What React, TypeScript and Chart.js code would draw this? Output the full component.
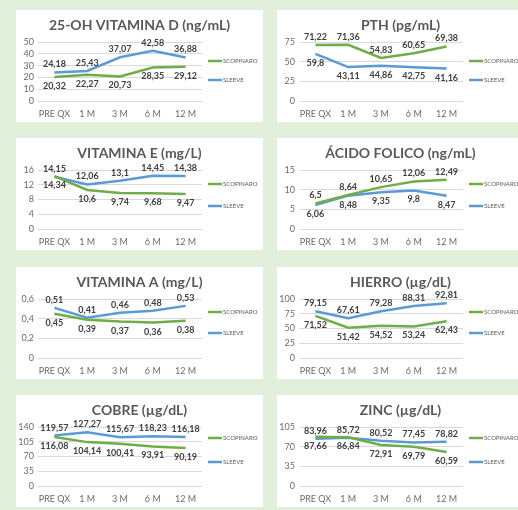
import React, { useEffect, useRef } from "react";
import { Chart, registerables } from "chart.js";

Chart.register(...registerables);

// Follow-up points after surgery
const months = ["PRE QX", "1 M", "3 M", "6 M", "12 M"];
const seriesNames = ["SCOPINARO", "SLEEVE"];

const vitDScopinaro = [20.32, 22.27, 20.73, 28.35, 29.12];
const vitDSleeve = [24.18, 25.43, 37.07, 42.58, 36.88];
const vitDTicks = [0, 50, 10];

const pthScopinaro = [71.22, 71.36, 54.83, 60.65, 69.38];
const pthSleeve = [59.8, 43.11, 44.86, 42.75, 41.16];
const pthTicks = [0, 75, 25];

const vitEScopinaro = [14.34, 10.6, 9.74, 9.68, 9.47];
const vitESleeve = [14.15, 12.06, 13.1, 14.45, 14.38];
const vitETicks = [0, 16, 4];

const folicoScopinaro = [6.5, 8.64, 10.65, 12.06, 12.49];
const folicoSleeve = [6.06, 8.48, 9.35, 9.8, 8.47];
const folicoTicks = [0, 15, 5];

const vitAScopinaro = [0.45, 0.39, 0.37, 0.36, 0.38];
const vitASleeve = [0.51, 0.41, 0.46, 0.48, 0.53];
const vitATicks = [0, 0.6, 0.2];

const hierroScopinaro = [71.52, 51.42, 54.52, 53.24, 62.43];
const hierroSleeve = [79.15, 67.61, 79.28, 88.31, 92.81];
const hierroTicks = [0, 100, 25];

const cobreScopinaro = [116.08, 104.14, 100.41, 93.91, 90.19];
const cobreSleeve = [119.57, 127.27, 115.67, 118.23, 116.18];
const cobreTicks = [0, 140, 35];

const zincScopinaro = [87.66, 86.84, 72.91, 69.79, 60.59];
const zincSleeve = [83.96, 85.72, 80.52, 77.45, 78.82];
const zincTicks = [0, 105, 35];

const GREEN = "#70ad47";
const BLUE = "#5b9bd5";
const FONT = "Lato, 'Open Sans', sans-serif";

type Spec = {
  title: string;
  scop: number[];
  sleeve: number[];
  ticks: number[];
  scopAbove: boolean;
};

const specs: Spec[] = [
  { title: "25-OH VITAMINA D (ng/mL)", scop: vitDScopinaro, sleeve: vitDSleeve, ticks: vitDTicks, scopAbove: false },
  { title: "PTH (pg/mL)", scop: pthScopinaro, sleeve: pthSleeve, ticks: pthTicks, scopAbove: true },
  { title: "VITAMINA E (mg/L)", scop: vitEScopinaro, sleeve: vitESleeve, ticks: vitETicks, scopAbove: false },
  { title: "ÁCIDO FOLICO (ng/mL)", scop: folicoScopinaro, sleeve: folicoSleeve, ticks: folicoTicks, scopAbove: true },
  { title: "VITAMINA A (mg/L)", scop: vitAScopinaro, sleeve: vitASleeve, ticks: vitATicks, scopAbove: false },
  { title: "HIERRO (µg/dL)", scop: hierroScopinaro, sleeve: hierroSleeve, ticks: hierroTicks, scopAbove: false },
  { title: "COBRE (µg/dL)", scop: cobreScopinaro, sleeve: cobreSleeve, ticks: cobreTicks, scopAbove: false },
  { title: "ZINC (µg/dL)", scop: zincScopinaro, sleeve: zincSleeve, ticks: zincTicks, scopAbove: false },
];

const PANEL_W = 247;
const PANEL_H = 112;
const COL_X = [16, 277];
const ROW_Y = [10, 138, 267, 395];
const LEGEND_Y = [
  [51, 70],
  [46, 68],
  [45, 66],
  [43, 67],
];

const fmt = (v: number) => String(Number(v.toFixed(2))).replace(".", ",");

function Panel({ spec, left, top, legendY }: { spec: Spec; left: number; top: number; legendY: number[] }) {
  const ref = useRef<HTMLCanvasElement | null>(null);

  useEffect(() => {
    const canvas = ref.current;
    if (!canvas) return;

    const decorations = {
      id: "decorations",
      afterDatasetsDraw(chart: any) {
        const ctx = chart.ctx;
        ctx.save();
        // value labels
        ctx.font = `bold 9px ${FONT}`;
        ctx.fillStyle = "#404040";
        ctx.textAlign = "center";
        ctx.textBaseline = "middle";
        chart.data.datasets.forEach((ds: any, i: number) => {
          const meta = chart.getDatasetMeta(i);
          meta.data.forEach((pt: any, j: number) => {
            const dy = ds.labelAbove ? -8 : 9;
            ctx.fillText(fmt(ds.data[j]), pt.x, pt.y + dy);
          });
        });
        ctx.restore();
      },
      afterDraw(chart: any) {
        const ctx = chart.ctx;
        ctx.save();
        // title
        ctx.font = `bold 14px ${FONT}`;
        ctx.fillStyle = "#595959";
        ctx.textAlign = "center";
        ctx.textBaseline = "middle";
        ctx.fillText(spec.title, chart.width / 2, 15);
        // legend
        const x0 = chart.chartArea.right + 6;
        chart.data.datasets.forEach((ds: any, i: number) => {
          const y = legendY[i];
          ctx.strokeStyle = ds.borderColor;
          ctx.lineWidth = 2.5;
          ctx.beginPath();
          ctx.moveTo(x0, y);
          ctx.lineTo(x0 + 14, y);
          ctx.stroke();
          ctx.font = `6px ${FONT}`;
          ctx.fillStyle = "#595959";
          ctx.textAlign = "left";
          ctx.textBaseline = "middle";
          ctx.fillText(ds.label, x0 + 15, y);
        });
        ctx.restore();
      },
    };

    const chart = new Chart(canvas, {
      type: "line",
      data: {
        labels: months,
        datasets: [
          {
            label: seriesNames[0],
            data: spec.scop,
            borderColor: GREEN,
            backgroundColor: GREEN,
            borderWidth: 2.5,
            pointRadius: 0,
            tension: 0,
            labelAbove: spec.scopAbove,
          } as any,
          {
            label: seriesNames[1],
            data: spec.sleeve,
            borderColor: BLUE,
            backgroundColor: BLUE,
            borderWidth: 2.5,
            pointRadius: 0,
            tension: 0,
            labelAbove: !spec.scopAbove,
          } as any,
        ],
      },
      options: {
        responsive: false,
        animation: false,
        devicePixelRatio: 1,
        layout: { padding: { top: 32, right: 61, bottom: 0, left: 0 } },
        plugins: {
          legend: { display: false },
          title: { display: false },
          tooltip: { enabled: false },
        },
        scales: {
          x: {
            offset: true,
            grid: { display: false, drawTicks: false },
            border: { display: false },
            ticks: {
              font: { family: FONT, size: 9 },
              color: "#6b6b6b",
              padding: 8,
              maxRotation: 0,
              autoSkip: false,
            },
            afterFit: (s: any) => {
              s.height = 21;
            },
          },
          y: {
            min: spec.ticks[0],
            max: spec.ticks[1],
            grid: { color: "#d9d9d9", lineWidth: 1, drawTicks: false },
            border: { display: false },
            ticks: {
              stepSize: spec.ticks[2],
              autoSkip: false,
              font: { family: FONT, size: 9 },
              color: "#6b6b6b",
              padding: 4,
              callback: (v: any) => fmt(Number(v)),
            },
            afterFit: (s: any) => {
              s.width = 22;
            },
          },
        },
      },
      plugins: [decorations],
    });

    return () => chart.destroy();
  }, [spec, legendY]);

  return (
    <div
      style={{
        position: "absolute",
        left,
        top,
        width: PANEL_W,
        height: PANEL_H,
        background: "#ffffff",
        overflow: "hidden",
      }}
    >
      <canvas ref={ref} width={PANEL_W} height={PANEL_H} style={{ display: "block" }} />
    </div>
  );
}

export default function App() {
  return (
    <div
      style={{
        position: "fixed",
        left: 0,
        top: 0,
        width: 518,
        height: 510,
        background: "#e2efda",
        overflow: "hidden",
      }}
    >
      {specs.map((spec, i) => {
        const row = Math.floor(i / 2);
        const col = i % 2;
        return (
          <Panel
            key={spec.title}
            spec={spec}
            left={COL_X[col]}
            top={ROW_Y[row]}
            legendY={LEGEND_Y[row]}
          />
        );
      })}
    </div>
  );
}
